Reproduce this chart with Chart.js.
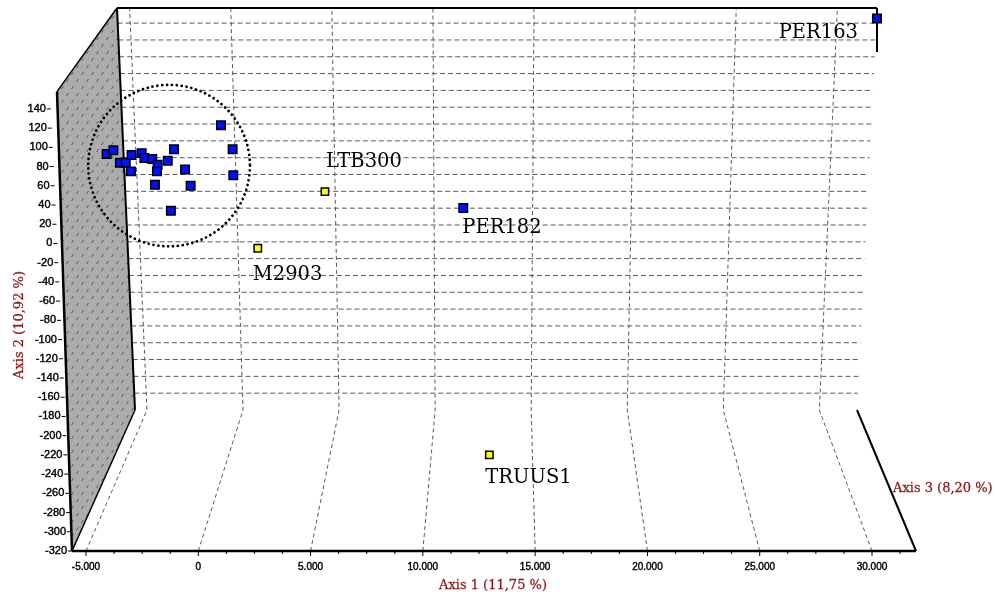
<!DOCTYPE html>
<html>
<head>
<meta charset="utf-8">
<script src="https://cdn.jsdelivr.net/npm/chart.js@4.4.0/dist/chart.umd.min.js"></script>
<style>
html, body { margin: 0; padding: 0; background: #fff; }
canvas { display: block; }
</style>
</head>
<body>
<canvas id="pcaChart" width="997" height="597"></canvas>
<script>
// values (Axis 1 horizontal, Axis 2 vertical)
var clusterX = [-4080, -3780, -3490, -3230, -2970, -3000, -2520, -2400, -2050, -1810, -1840, -1930, -1360, -1080, -590, -340, -1220, 1010, 1530, 1560];
var clusterY = [93, 97, 84, 84, 92, 75, 94, 89, 88, 82, 75, 61, 86, 98, 77, 60, 34, 123, 98, 71];
var blueNames = ['PER163', 'PER182'];
var blueX = [30220, 11800];
var blueY = [234, 37];
var yellowNames = ['LTB300', 'M2903', 'TRUUS1'];
var yellowX = [5640, 2650, 12960];
var yellowY = [54, -5, -220];
var xTicks = [-5000, 0, 5000, 10000, 15000, 20000, 25000, 30000];
var yTicks = [140, 120, 100, 80, 60, 40, 20, 0, -20, -40, -60, -80, -100, -120, -140, -160, -180, -200, -220, -240, -260, -280, -300, -320];
var circleCenter = [-1300, 81];
var circleRadius = [3600, 84];
var axisTitles = ['Axis 1 (11,75 %)', 'Axis 2 (10,92 %)', 'Axis 3 (8,20 %)'];

var X_MIN = -5623, X_MAX = 31959, Y_MIN = -320, Y_MAX = 245, BOX_TOP = 158;

// label offsets from the point, px
var labelPos = {
    PER163: [-19, 14, 'right'],
    PER182: [-1, 20, 'left'],
    LTB300: [1, -30, 'left'],
    M2903: [-5, 27, 'left'],
    TRUUS1: [-4, 23, 'left']
};

function pts(xs, ys) {
    var out = [];
    for (var i = 0; i < xs.length; i++) out.push({ x: xs[i], y: ys[i] });
    return out;
}

function fmt(v) {
    var s = Math.abs(v).toString().replace(/\B(?=(\d{3})+(?!\d))/g, '.');
    return (v < 0 ? '-' : '') + s;
}

var hatch = (function () {
    var c = document.createElement('canvas');
    c.width = 10; c.height = 14;
    var g = c.getContext('2d');
    g.fillStyle = '#acacac';
    g.fillRect(0, 0, 10, 14);
    g.strokeStyle = '#5c5c5c';
    g.lineWidth = 1;
    g.beginPath();
    g.moveTo(1.5, 5); g.lineTo(3.5, 2);
    g.moveTo(6.5, 12); g.lineTo(8.5, 9);
    g.stroke();
    return c;
})();

// perspective helpers built on the chart scales
function geo(chart) {
    var xs = chart.scales.x, ys = chart.scales.y, a = chart.chartArea;
    var fb = ys.getPixelForValue(Y_MIN);
    var ft = ys.getPixelForValue(BOX_TOP);
    var bb = 410, bt = a.top;
    var k = (bb - bt) / (fb - ft);
    var skew = 15 / (fb - ft);
    return {
        front: function (xv, yv) {
            var fy = ys.getPixelForValue(yv);
            return { x: xs.getPixelForValue(xv) - (fb - fy) * skew, y: fy };
        },
        back: function (xv, yv) {
            var fy = ys.getPixelForValue(yv);
            var by = bb - (fb - fy) * k;
            var t = (bb - by) / (bb - bt);
            var left = 135 - 18 * t, right = 857 + 20 * t;
            var u = (xv - X_MIN) / (X_MAX - X_MIN);
            return { x: left + u * (right - left), y: by };
        }
    };
}

function line(ctx, p, q) {
    ctx.beginPath();
    ctx.moveTo(p.x, p.y);
    ctx.lineTo(q.x, q.y);
    ctx.stroke();
}

function boldText(ctx, s, x, y) {
    ctx.fillText(s, x, y);
    ctx.strokeText(s, x, y);
}

var boxPlugin = {
    id: 'box3d',
    beforeDatasetsDraw: function (chart) {
        var ctx = chart.ctx, xs = chart.scales.x, ys = chart.scales.y;
        var G = geo(chart);
        ctx.save();

        // back wall grid
        ctx.strokeStyle = '#5a5a5a';
        ctx.lineWidth = 1;
        ctx.setLineDash([5, 3]);
        for (var v = Y_MIN + 20; v <= 140; v += 20) {
            line(ctx, G.back(X_MIN, v), G.back(X_MAX, v));
        }
        ctx.setLineDash([4, 3]);
        xTicks.forEach(function (xv) {
            var fp = { x: xs.getPixelForValue(xv), y: ys.getPixelForValue(Y_MIN) };
            var b0 = G.back(xv, Y_MIN), b1 = G.back(xv, BOX_TOP);
            ctx.beginPath();
            ctx.moveTo(fp.x, fp.y);
            ctx.lineTo(b0.x, b0.y);
            ctx.lineTo(b1.x, b1.y);
            ctx.stroke();
        });
        ctx.setLineDash([]);

        // left wall
        var fl0 = G.front(X_MIN, Y_MIN), fl1 = G.front(X_MIN, BOX_TOP);
        var bl0 = G.back(X_MIN, Y_MIN), bl1 = G.back(X_MIN, BOX_TOP);
        var br0 = G.back(X_MAX, Y_MIN), br1 = G.back(X_MAX, BOX_TOP);
        var fr0 = { x: xs.getPixelForValue(X_MAX), y: fl0.y };
        ctx.fillStyle = ctx.createPattern(hatch, 'repeat');
        ctx.beginPath();
        ctx.moveTo(fl0.x, fl0.y);
        ctx.lineTo(fl1.x, fl1.y);
        ctx.lineTo(bl1.x, bl1.y);
        ctx.lineTo(bl0.x, bl0.y);
        ctx.closePath();
        ctx.fill();

        ctx.strokeStyle = '#000';
        ctx.lineWidth = 1.5;
        line(ctx, fl1, bl1);
        line(ctx, bl0, fl0);
        ctx.lineWidth = 2;
        line(ctx, bl1, bl0);
        line(ctx, bl1, br1);
        line(ctx, br0, fr0);
        line(ctx, br1, { x: br1.x, y: br1.y + 44 });
        ctx.lineWidth = 2.5;
        line(ctx, fl0, fl1);
        line(ctx, fl0, fr0);

        // circle around the cluster
        var cx = xs.getPixelForValue(circleCenter[0]), cy = ys.getPixelForValue(circleCenter[1]);
        var rx = xs.getPixelForValue(circleCenter[0] + circleRadius[0]) - cx;
        var ry = cy - ys.getPixelForValue(circleCenter[1] + circleRadius[1]);
        ctx.setLineDash([0.01, 4.9]);
        ctx.lineCap = 'round';
        ctx.lineWidth = 2.8;
        ctx.beginPath();
        ctx.ellipse(cx, cy, rx, ry, 0, 0, Math.PI * 2);
        ctx.stroke();
        ctx.setLineDash([]);
        ctx.lineCap = 'butt';

        // y axis ticks and labels
        ctx.lineWidth = 1;
        ctx.fillStyle = '#000';
        ctx.font = '11px "Liberation Sans", Arial, sans-serif';
        ctx.textAlign = 'right';
        ctx.textBaseline = 'middle';
        var fb = ys.getPixelForValue(Y_MIN);
        yTicks.forEach(function (yv) {
            var p = G.front(X_MIN, yv);
            var lx = p.x - 5 - (fb - p.y) * 0.015;
            ctx.lineWidth = 0.4;
            boldText(ctx, fmt(yv), lx, p.y);
            ctx.lineWidth = 1;
            line(ctx, { x: lx + 1, y: p.y }, { x: lx + 5, y: p.y });
        });

        // x axis ticks and labels
        ctx.font = '10px "Liberation Sans", Arial, sans-serif';
        ctx.textAlign = 'center';
        ctx.textBaseline = 'middle';
        for (var m = -5000; m <= 31250; m += 1250) {
            var px = xs.getPixelForValue(m);
            var major = m % 5000 === 0;
            line(ctx, { x: px, y: fb }, { x: px, y: fb + (major ? 5 : 3) });
        }
        ctx.lineWidth = 0.4;
        xTicks.forEach(function (xv) {
            boldText(ctx, fmt(xv), xs.getPixelForValue(xv), fb + 16);
        });

        // axis titles
        ctx.fillStyle = '#8b1c1c';
        ctx.strokeStyle = '#8b1c1c';
        ctx.lineWidth = 0.3;
        ctx.font = '13px "DejaVu Serif", serif';
        boldText(ctx, axisTitles[0], 493, 586);
        ctx.textAlign = 'left';
        boldText(ctx, axisTitles[2], 893, 489);
        ctx.save();
        ctx.translate(20, 325);
        ctx.rotate(-Math.PI / 2);
        ctx.textAlign = 'center';
        boldText(ctx, axisTitles[1], 0, 0);
        ctx.restore();

        ctx.restore();
    },
    afterDatasetsDraw: function (chart) {
        var ctx = chart.ctx;
        ctx.save();
        ctx.fillStyle = '#000';
        ctx.font = '19.5px "DejaVu Serif", serif';
        ctx.textBaseline = 'middle';
        [[1, blueNames], [2, yellowNames]].forEach(function (d) {
            var meta = chart.getDatasetMeta(d[0]);
            d[1].forEach(function (name, j) {
                var el = meta.data[j], o = labelPos[name];
                ctx.textAlign = o[2];
                ctx.fillText(name, el.x + o[0], el.y + o[1]);
            });
        });
        ctx.restore();
    }
};

var ctx = document.getElementById('pcaChart').getContext('2d');
var myChart = new Chart(ctx, {
    type: 'scatter',
    data: {
        datasets: [
            {
                label: 'cluster',
                data: pts(clusterX, clusterY),
                pointStyle: 'rect',
                pointRadius: 6,
                backgroundColor: '#0010ff',
                borderColor: '#000',
                borderWidth: 1.5,
                clip: false
            },
            {
                label: 'blue',
                data: pts(blueX, blueY),
                pointStyle: 'rect',
                pointRadius: 6,
                backgroundColor: '#0010ff',
                borderColor: '#000',
                borderWidth: 1.5,
                clip: false
            },
            {
                label: 'yellow',
                data: pts(yellowX, yellowY),
                pointStyle: 'rect',
                pointRadius: 5.2,
                backgroundColor: '#ffff00',
                borderColor: '#000',
                borderWidth: 1.5,
                clip: false
            }
        ]
    },
    options: {
        responsive: false,
        animation: false,
        layout: { padding: { left: 72, right: 81, top: 8, bottom: 46 } },
        scales: {
            x: { type: 'linear', min: X_MIN, max: X_MAX, display: false },
            y: { type: 'linear', min: Y_MIN, max: Y_MAX, display: false }
        },
        plugins: {
            legend: { display: false },
            tooltip: { enabled: false }
        }
    },
    plugins: [boxPlugin]
});
</script>
</body>
</html>
